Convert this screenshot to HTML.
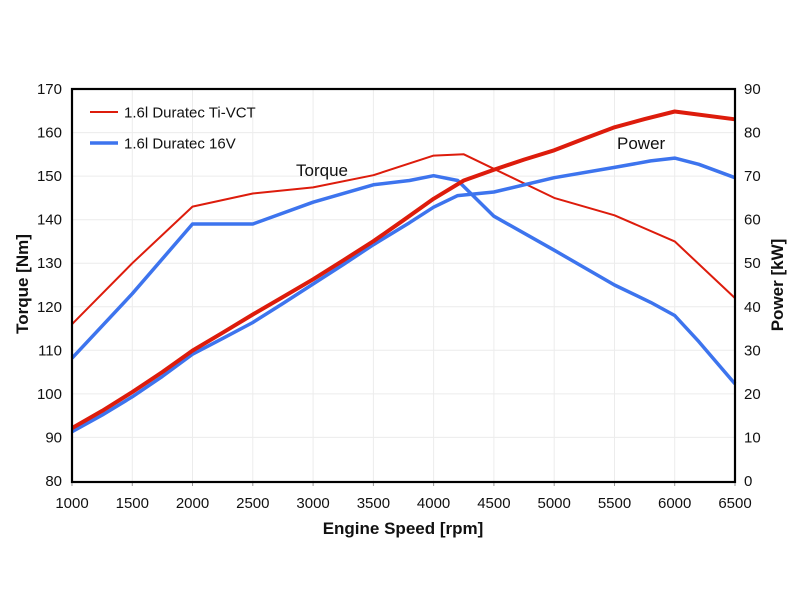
<!DOCTYPE html>
<html><head><meta charset="utf-8"><style>
html,body{margin:0;padding:0;background:#fff;}
svg{display:block;}
text{font-family:"Liberation Sans",Arial,sans-serif;fill:#111;}
</style></head><body>
<svg width="800" height="600" viewBox="0 0 800 600" xmlns="http://www.w3.org/2000/svg">
<rect width="800" height="600" fill="#fff"/>
<g stroke="#ececec" stroke-width="1">
<line x1="132.3" y1="89" x2="132.3" y2="481"/>
<line x1="192.5" y1="89" x2="192.5" y2="481"/>
<line x1="252.8" y1="89" x2="252.8" y2="481"/>
<line x1="313.1" y1="89" x2="313.1" y2="481"/>
<line x1="373.4" y1="89" x2="373.4" y2="481"/>
<line x1="433.6" y1="89" x2="433.6" y2="481"/>
<line x1="493.9" y1="89" x2="493.9" y2="481"/>
<line x1="554.2" y1="89" x2="554.2" y2="481"/>
<line x1="614.5" y1="89" x2="614.5" y2="481"/>
<line x1="674.7" y1="89" x2="674.7" y2="481"/>
<line x1="72" y1="132.6" x2="735" y2="132.6"/>
<line x1="72" y1="176.1" x2="735" y2="176.1"/>
<line x1="72" y1="219.7" x2="735" y2="219.7"/>
<line x1="72" y1="263.2" x2="735" y2="263.2"/>
<line x1="72" y1="306.8" x2="735" y2="306.8"/>
<line x1="72" y1="350.3" x2="735" y2="350.3"/>
<line x1="72" y1="393.9" x2="735" y2="393.9"/>
<line x1="72" y1="437.4" x2="735" y2="437.4"/>
</g>
<!-- tick marks -->
<g stroke="#999" stroke-width="1">
<line x1="72" y1="482" x2="72" y2="486"/>
<line x1="132.3" y1="482" x2="132.3" y2="486"/>
<line x1="192.5" y1="482" x2="192.5" y2="486"/>
<line x1="252.8" y1="482" x2="252.8" y2="486"/>
<line x1="313.1" y1="482" x2="313.1" y2="486"/>
<line x1="373.4" y1="482" x2="373.4" y2="486"/>
<line x1="433.6" y1="482" x2="433.6" y2="486"/>
<line x1="493.9" y1="482" x2="493.9" y2="486"/>
<line x1="554.2" y1="482" x2="554.2" y2="486"/>
<line x1="614.5" y1="482" x2="614.5" y2="486"/>
<line x1="674.7" y1="482" x2="674.7" y2="486"/>
<line x1="735" y1="482" x2="735" y2="486"/>
</g>
<!-- Torque lines -->
<polyline fill="none" stroke="#dd1c0c" stroke-width="2" stroke-linejoin="round"
points="72,324.2 132.3,263.2 192.5,206.6 252.8,193.5 313.1,187.4 373.4,175.2 433.6,155.6 463.8,154.3 554.2,197.9 614.5,215.3 674.7,241.4 735,298.1"/>
<polyline fill="none" stroke="#3d74ee" stroke-width="3.5" stroke-linejoin="round"
points="72,358.2 132.3,293.7 192.5,224 252.8,224 313.1,202.2 373.4,184.8 409.5,180.5 433.6,175.7 457.7,180.5 493.9,216.2 554.2,250.2 614.5,285 650.7,302.4 674.7,315.5 698.8,341.6 735,383.9"/>
<!-- Power lines -->
<polyline fill="none" stroke="#3d74ee" stroke-width="3.5" stroke-linejoin="round"
points="72,431.7 102.1,415.1 132.3,396.8 162.4,376.4 192.5,354.2 222.7,338.4 252.8,322.5 282.9,303.5 313.1,284 343.2,264.6 373.4,244.7 409.5,222.7 433.6,207.2 457.7,195.6 493.9,192 554.2,177.7 614.5,167.4 650.7,160.9 674.7,158.1 698.8,164.3 735,177.7"/>
<polyline fill="none" stroke="#dd1c0c" stroke-width="4" stroke-linejoin="round"
points="72,428.1 102.1,410.9 132.3,392.1 162.4,372 192.5,350.6 222.7,332.7 252.8,314.5 282.9,297 313.1,279.3 343.2,260.4 373.4,241.2 403.5,220.2 433.6,198.8 463.8,180.5 493.9,169.7 524,159.6 554.2,150.3 584.3,138.6 614.5,127.3 644.6,119.1 674.7,111.5 735,119.3"/>
<!-- axes frame -->
<rect x="72" y="89" width="663" height="393" fill="none" stroke="#000" stroke-width="2.2"/>
<!-- left tick labels -->
<g font-size="15" text-anchor="end">
<text x="62" y="94">170</text>
<text x="62" y="137.6">160</text>
<text x="62" y="181.1">150</text>
<text x="62" y="224.7">140</text>
<text x="62" y="268.2">130</text>
<text x="62" y="311.8">120</text>
<text x="62" y="355.3">110</text>
<text x="62" y="398.9">100</text>
<text x="62" y="442.4">90</text>
<text x="62" y="486">80</text>
</g>
<g font-size="15" text-anchor="start">
<text x="744" y="94">90</text>
<text x="744" y="137.6">80</text>
<text x="744" y="181.1">70</text>
<text x="744" y="224.7">60</text>
<text x="744" y="268.2">50</text>
<text x="744" y="311.8">40</text>
<text x="744" y="355.3">30</text>
<text x="744" y="398.9">20</text>
<text x="744" y="442.4">10</text>
<text x="744" y="486">0</text>
</g>
<g font-size="15" text-anchor="middle">
<text x="72" y="508">1000</text>
<text x="132.3" y="508">1500</text>
<text x="192.5" y="508">2000</text>
<text x="252.8" y="508">2500</text>
<text x="313.1" y="508">3000</text>
<text x="373.4" y="508">3500</text>
<text x="433.6" y="508">4000</text>
<text x="493.9" y="508">4500</text>
<text x="554.2" y="508">5000</text>
<text x="614.5" y="508">5500</text>
<text x="674.7" y="508">6000</text>
<text x="735" y="508">6500</text>
</g>
<text x="403" y="534" font-size="17" font-weight="bold" text-anchor="middle">Engine Speed [rpm]</text>
<text transform="translate(28,284) rotate(-90)" font-size="17" font-weight="bold" text-anchor="middle">Torque [Nm]</text>
<text transform="translate(783,285) rotate(-90)" font-size="17" font-weight="bold" text-anchor="middle">Power [kW]</text>
<!-- legend -->
<line x1="90" y1="112" x2="118" y2="112" stroke="#dd1c0c" stroke-width="2"/>
<text x="124" y="117.5" font-size="15">1.6l Duratec Ti-VCT</text>
<line x1="90" y1="143" x2="118" y2="143" stroke="#3d74ee" stroke-width="3.5"/>
<text x="124" y="148.5" font-size="15">1.6l Duratec 16V</text>
<text x="296" y="176" font-size="17">Torque</text>
<text x="617" y="149" font-size="17">Power</text>
</svg>
</body></html>
